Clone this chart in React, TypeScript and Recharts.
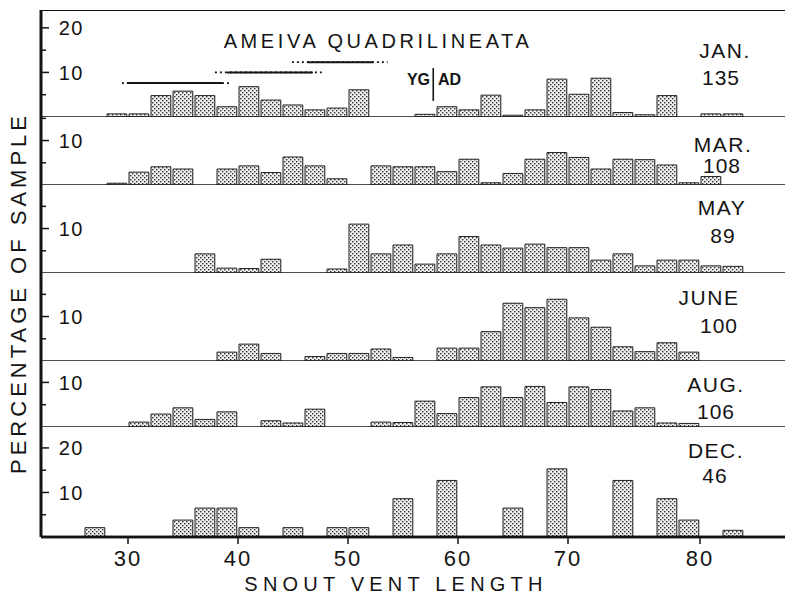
import React from 'react';
import { BarChart, Bar, XAxis, YAxis, ReferenceLine } from 'recharts';

// ---------- DATA ----------
const binStarts = [26, 28, 30, 32, 34, 36, 38, 40, 42, 44, 46, 48, 50, 52, 54, 56, 58, 60, 62, 64, 66, 68, 70, 72, 74, 76, 78, 80, 82, 84];
const BIN_WIDTH = 2;

//               26    28    30    32   34   36    38   40   42   44    46    48   50    52    54    56    58   60    62    64    66    68    70   72   74   76   78    80    82    84
const janPct = [null, 0.7, 0.7, 4.8, 5.8, 4.8, 2.3, 6.8, 3.8, 2.7, 1.6, 2.0, 6.1, null, null, 0.6, 2.3, 1.6, 4.9, 0.4, 1.6, 8.5, 5.1, 8.7, 1.0, 0.5, 4.8, null, 0.7, 0.7];
const marPct = [null, 0.4, 2.9, 4.1, 3.6, null, 3.6, 4.3, 2.8, 6.3, 4.3, 1.4, null, 4.3, 4.1, 4.1, 3.0, 5.8, 0.5, 2.6, 5.8, 7.3, 6.2, 3.6, 5.8, 5.7, 4.5, 0.5, 1.9, null];
const mayPct = [null, null, null, null, null, 4.3, 1.1, 1.0, 3.1, null, null, 0.9, 11.0, 4.3, 6.3, 2.0, 4.3, 8.2, 6.3, 5.6, 6.5, 5.7, 5.7, 2.9, 4.3, 1.6, 2.9, 2.9, 1.6, 1.5];
const junePct = [null, null, null, null, null, null, 2.0, 3.8, 1.7, null, 1.0, 1.7, 1.7, 2.7, 0.8, null, 2.9, 2.9, 6.6, 13.0, 12.0, 13.9, 9.7, 7.6, 3.2, 2.1, 4.1, 2.0, null, null];
const augPct = [null, null, 1.1, 2.9, 4.3, 1.7, 3.4, null, 1.4, 0.9, 4.0, null, null, 1.1, 1.0, 5.8, 3.0, 6.6, 9.0, 6.6, 9.1, 5.5, 9.0, 8.4, 3.6, 4.3, 0.9, 0.8, null, null];
const decPct = [2.1, null, null, null, 3.8, 6.5, 6.5, 2.1, null, 2.1, null, 2.1, 2.1, null, 8.6, null, 12.7, null, null, 6.5, null, 15.3, null, null, 12.7, null, 8.6, 3.8, null, 1.5];

const seriesList = [janPct, marPct, mayPct, junePct, augPct, decPct];
const monthLabels = ['JAN.', 'MAR.', 'MAY', 'JUNE', 'AUG.', 'DEC.'];
const sampleSizes = ['135', '108', '89', '100', '106', '46'];
const panelMax = [24, 15.3, 19.8, 19.8, 14.8, 24.7];

const yTickCandidates = [5, 10, 15, 20];
const yLabelledTicks = [10, 20];

const xTickValues = [30, 40, 50, 60, 70, 82];
const xTickLabels = ['30', '40', '50', '60', '70', '80'];

const titleText = 'AMEIVA QUADRILINEATA';
const xAxisTitle = 'SNOUT VENT LENGTH';
const yAxisTitle = 'PERCENTAGE OF SAMPLE';

// January size-class range bars (x in mm, y in %)
const rangeBars = [
  { y: 7.6, dotStart: 29.45, solidStart: 29.9, solidEnd: 38.6, dotEnd: 39.2 },
  { y: 10.0, dotStart: 37.9, solidStart: 39.0, solidEnd: 46.8, dotEnd: 47.8 },
  { y: 12.3, dotStart: 44.9, solidStart: 46.3, solidEnd: 52.3, dotEnd: 53.6 },
];
const youngAdultSplit = { x: 57.75, yTop: 11.0, yBottom: 3.6 };
const splitLabels = ['YG', 'AD'];

// ---------- LAYOUT ----------
const W = 786;
const H = 596;
const AXIS_X = 41;
const RIGHT_MARGIN = 1;
const PX_PER_UNIT = 11;
const X_MIN = 30 - (128 - AXIS_X) / PX_PER_UNIT;
const X_MAX = X_MIN + (W - AXIS_X - RIGHT_MARGIN) / PX_PER_UNIT;
const PX_PER_PCT = 4.45;
const TOP = 10;
const X_AXIS_H = 36;
const FONT = '"Liberation Sans", Arial, sans-serif';
const INK = '#141414';

const panelHeights = panelMax.map((m) => Math.round(m * PX_PER_PCT));
const panelTops = panelHeights.map((_, i) => TOP + panelHeights.slice(0, i).reduce((a, b) => a + b, 0));

const labelLayout = [
  { mx: 725, my: 58, nx: 721, ny: 85 },
  { mx: 723, my: 152, nx: 722, ny: 173 },
  { mx: 722, my: 215, nx: 723, ny: 243 },
  { mx: 709, my: 305, nx: 719, ny: 333 },
  { mx: 716, my: 392, nx: 716, ny: 419 },
  { mx: 716, my: 458, nx: 715, ny: 483 },
];

const YTick = (props: any) => {
  const { y, payload } = props;
  const v = payload.value;
  const labelled = yLabelledTicks.includes(v);
  return (
    <g>
      <line x1={AXIS_X} x2={AXIS_X + (labelled ? 8 : 5)} y1={y} y2={y} stroke={INK} strokeWidth={1.5} />
      {labelled && (
        <text x={84} y={y} dy="0.36em" textAnchor="end" fontSize={20} fontFamily={FONT} fill={INK} letterSpacing={1.5}>
          {v}
        </text>
      )}
    </g>
  );
};

function Panel({ index }: { index: number }) {
  const values = seriesList[index];
  const max = panelMax[index];
  const h = panelHeights[index];
  const isLast = index === seriesList.length - 1;
  const isFirst = index === 0;
  const data = binStarts.map((b, i) => ({ mid: b + BIN_WIDTH / 2, pct: values[i] }));
  const yTicks = yTickCandidates.filter((t) => t < max);
  const pid = `stipple-${index}`;
  return (
    <div style={{ position: 'absolute', left: 0, top: panelTops[index] }}>
      <BarChart
        width={W}
        height={h + (isLast ? X_AXIS_H : 0)}
        data={data}
        margin={{ top: 0, right: RIGHT_MARGIN, bottom: 0, left: 0 }}
      >
        <defs>
          <pattern id={pid} width={4} height={4} patternUnits="userSpaceOnUse">
            <rect width={4} height={4} fill="#efefef" />
            <rect x={0} y={0} width={1.4} height={1.4} fill="#2e2e2e" />
            <rect x={2} y={2} width={1.4} height={1.4} fill="#2e2e2e" />
          </pattern>
        </defs>
        <XAxis
          type="number"
          dataKey="mid"
          domain={[X_MIN, X_MAX]}
          allowDataOverflow
          ticks={xTickValues}
          interval={0}
          hide={!isLast}
          height={isLast ? X_AXIS_H : 0}
          axisLine={{ stroke: INK, strokeWidth: 2.5 }}
          tickLine={{ stroke: INK, strokeWidth: 1.5 }}
          tickSize={7}
          tickMargin={6}
          tick={{ fontSize: 22, fill: INK, fontFamily: FONT, letterSpacing: 2 }}
          tickFormatter={(v: number) => xTickLabels[xTickValues.indexOf(v)] ?? ''}
        />
        <YAxis
          type="number"
          domain={[0, max]}
          allowDataOverflow
          ticks={yTicks}
          interval={0}
          width={AXIS_X}
          axisLine={{ stroke: INK, strokeWidth: 3 }}
          tickLine={false}
          tick={(p: any) => <YTick {...p} />}
        />
        <ReferenceLine y={0} stroke={INK} strokeWidth={isLast ? 2.5 : 1.6} />
        {isFirst && <ReferenceLine y={max} stroke={INK} strokeWidth={2.2} />}
        {isFirst &&
          rangeBars.map((r, k) => (
            <ReferenceLine
              key={`rd${k}`}
              segment={[{ x: r.dotStart, y: r.y }, { x: r.dotEnd, y: r.y }]}
              stroke={INK}
              strokeWidth={1.6}
              strokeDasharray="2 3"
            />
          ))}
        {isFirst &&
          rangeBars.map((r, k) => (
            <ReferenceLine
              key={`rs${k}`}
              segment={[{ x: r.solidStart, y: r.y }, { x: r.solidEnd, y: r.y }]}
              stroke={INK}
              strokeWidth={2}
            />
          ))}
        {isFirst && (
          <ReferenceLine
            segment={[{ x: youngAdultSplit.x, y: youngAdultSplit.yTop }, { x: youngAdultSplit.x, y: youngAdultSplit.yBottom }]}
            stroke={INK}
            strokeWidth={1.6}
          />
        )}
        <Bar dataKey="pct" barSize={BIN_WIDTH * PX_PER_UNIT} fill={`url(#${pid})`} stroke="#222" strokeWidth={1} isAnimationActive={false} />
      </BarChart>
    </div>
  );
}

export default function App() {
  return (
    <div style={{ position: 'absolute', left: 0, top: 0, width: W, height: H, background: '#fff', overflow: 'hidden' }}>
      {seriesList.map((_, i) => (
        <Panel key={i} index={i} />
      ))}
      <svg width={W} height={H} style={{ position: 'absolute', left: 0, top: 0, pointerEvents: 'none' }}>
        <text x={378} y={48} textAnchor="middle" fontSize={20} fontFamily={FONT} fill={INK} letterSpacing={3.6}>
          {titleText}
        </text>
        <text x={430} y={85} textAnchor="end" fontSize={16} fontWeight={700} fontFamily={FONT} fill={INK}>
          {splitLabels[0]}
        </text>
        <text x={438} y={85} textAnchor="start" fontSize={16} fontWeight={700} fontFamily={FONT} fill={INK}>
          {splitLabels[1]}
        </text>
        {monthLabels.map((m, i) => (
          <g key={m}>
            <text x={labelLayout[i].mx} y={labelLayout[i].my} textAnchor="middle" fontSize={21} fontFamily={FONT} fill={INK} letterSpacing={1.5}>
              {m}
            </text>
            <text x={labelLayout[i].nx} y={labelLayout[i].ny} textAnchor="middle" fontSize={21} fontFamily={FONT} fill={INK} letterSpacing={1}>
              {sampleSizes[i]}
            </text>
          </g>
        ))}
        <text x={396} y={591} textAnchor="middle" fontSize={20} fontFamily={FONT} fill={INK} letterSpacing={5.2}>
          {xAxisTitle}
        </text>
        <text
          x={0}
          y={0}
          transform={`translate(26, 293) rotate(-90)`}
          textAnchor="middle"
          fontSize={22}
          fontFamily={FONT}
          fill={INK}
          letterSpacing={4}
        >
          {yAxisTitle}
        </text>
      </svg>
    </div>
  );
}
